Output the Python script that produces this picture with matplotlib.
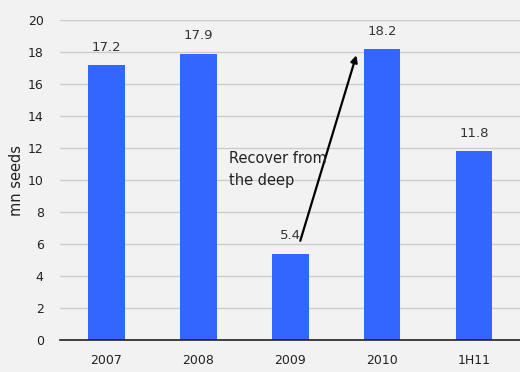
import matplotlib
matplotlib.use("Agg")
import matplotlib.pyplot as plt

categories = ["2007", "2008", "2009", "2010", "1H11"]
seeds = [17.2, 17.9, 5.4, 18.2, 11.8]
y_ticks = [0, 2, 4, 6, 8, 10, 12, 14, 16, 18, 20]

bg = "#f2f2f2"
bar_color = "#3366ff"
text_color = "#222222"

plt.rcParams["font.family"] = ["DejaVu Sans"]

fig = plt.figure(figsize=(5.2, 3.72), dpi=100, facecolor=bg)
ax = fig.add_axes([0.116, 0.086, 0.884, 0.860], facecolor=bg)

x = list(range(len(categories)))
ax.bar(x, seeds, width=0.4, color=bar_color, zorder=3)

for xi, v in zip(x, seeds):
    ax.text(xi, v + 0.7, f"{v:.1f}", ha="center", va="bottom",
            fontsize=9.5, color="#333333", zorder=4)

ax.set_xlim(-0.5, len(categories) - 0.5)
ax.set_ylim(0, 20)
ax.set_yticks(y_ticks)
ax.set_xticks(x)
ax.set_xticklabels(categories)
ax.tick_params(axis="both", length=0, labelsize=9, colors=text_color)
ax.tick_params(axis="y", pad=12)
ax.tick_params(axis="x", pad=10)
ax.grid(axis="y", color="#cccccc", linewidth=1, zorder=0)

for side in ("top", "right", "left"):
    ax.spines[side].set_visible(False)
ax.spines["bottom"].set_color("#222222")
ax.spines["bottom"].set_linewidth(1.2)
ax.spines["bottom"].set_zorder(5)

ax.set_ylabel("mn seeds", fontsize=10.5, color=text_color, labelpad=3)

ax.annotate("", xy=(2.72, 17.8), xytext=(2.11, 6.2),
            arrowprops=dict(arrowstyle="-|>", color="black", lw=1.6,
                            mutation_scale=10, shrinkA=0, shrinkB=0),
            zorder=6)
ax.text(1.34, 11.8, "Recover from\nthe deep", fontsize=10.5, color=text_color,
        ha="left", va="top", linespacing=1.55, zorder=6)

fig.savefig("out.png", dpi=100, facecolor=bg)
